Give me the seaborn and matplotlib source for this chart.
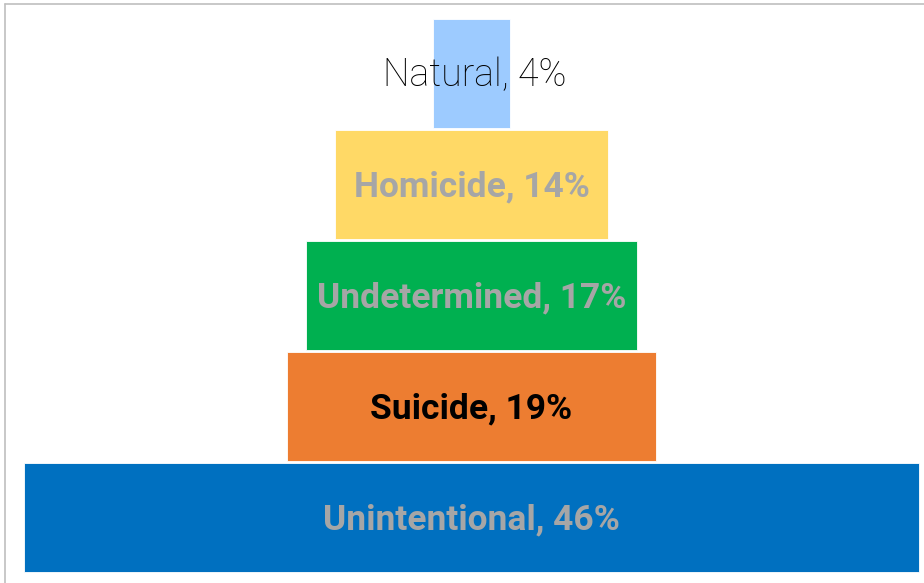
import matplotlib
matplotlib.use("Agg")
import matplotlib.pyplot as plt
import seaborn as sns
import pandas as pd
from matplotlib.lines import Line2D

categories = ["Natural", "Homicide", "Undetermined", "Suicide", "Unintentional"]
values = [4, 14, 17, 19, 46]
colors = ["#9DCBFF", "#FFD966", "#00B050", "#ED7D31", "#0070C0"]
label_colors = ["#000000", "#A6A6A6", "#A6A6A6", "#000000", "#A6A6A6"]
labels = [f"{c}, {v}%" for c, v in zip(categories, values)]

df = pd.DataFrame({"category": categories, "value": values})

sns.set_theme(style="white")
fig = plt.figure(figsize=(9.24, 5.83), dpi=100)
ax = fig.add_axes([0, 0, 1, 1])
sns.barplot(data=df, x="value", y="category", hue="category", palette=colors,
            orient="h", width=0.985, legend=False, ax=ax, saturation=1,
            edgecolor="white", linewidth=0.6)

# center bars to make a pyramid
for p in ax.patches:
    w = p.get_width()
    p.set_x(-w / 2)

ax.set_xlim(-24.23, 23.25)
ax.set_ylim(4.59, -0.662)
ax.axis("off")

for i, (lab, col) in enumerate(zip(labels, label_colors)):
    if i == 0:
        ax.text(0.15, i + 0.02, lab, ha="center", va="center", color=col,
                fontsize=27, family="Roboto", fontweight="light")
    else:
        ax.text(0, i + 0.02, lab, ha="center", va="center", color=col,
                fontsize=25.5, family="Roboto", fontweight="semibold")

# figure border (top and left)
fig.add_artist(Line2D([5 / 924, 1], [1 - 4 / 583, 1 - 4 / 583], color="#BFBFBF", lw=1.2,
                      transform=fig.transFigure))
fig.add_artist(Line2D([5 / 924, 5 / 924], [0, 1 - 4 / 583], color="#BFBFBF", lw=1.2,
                      transform=fig.transFigure))

fig.savefig("out.png", dpi=100)
